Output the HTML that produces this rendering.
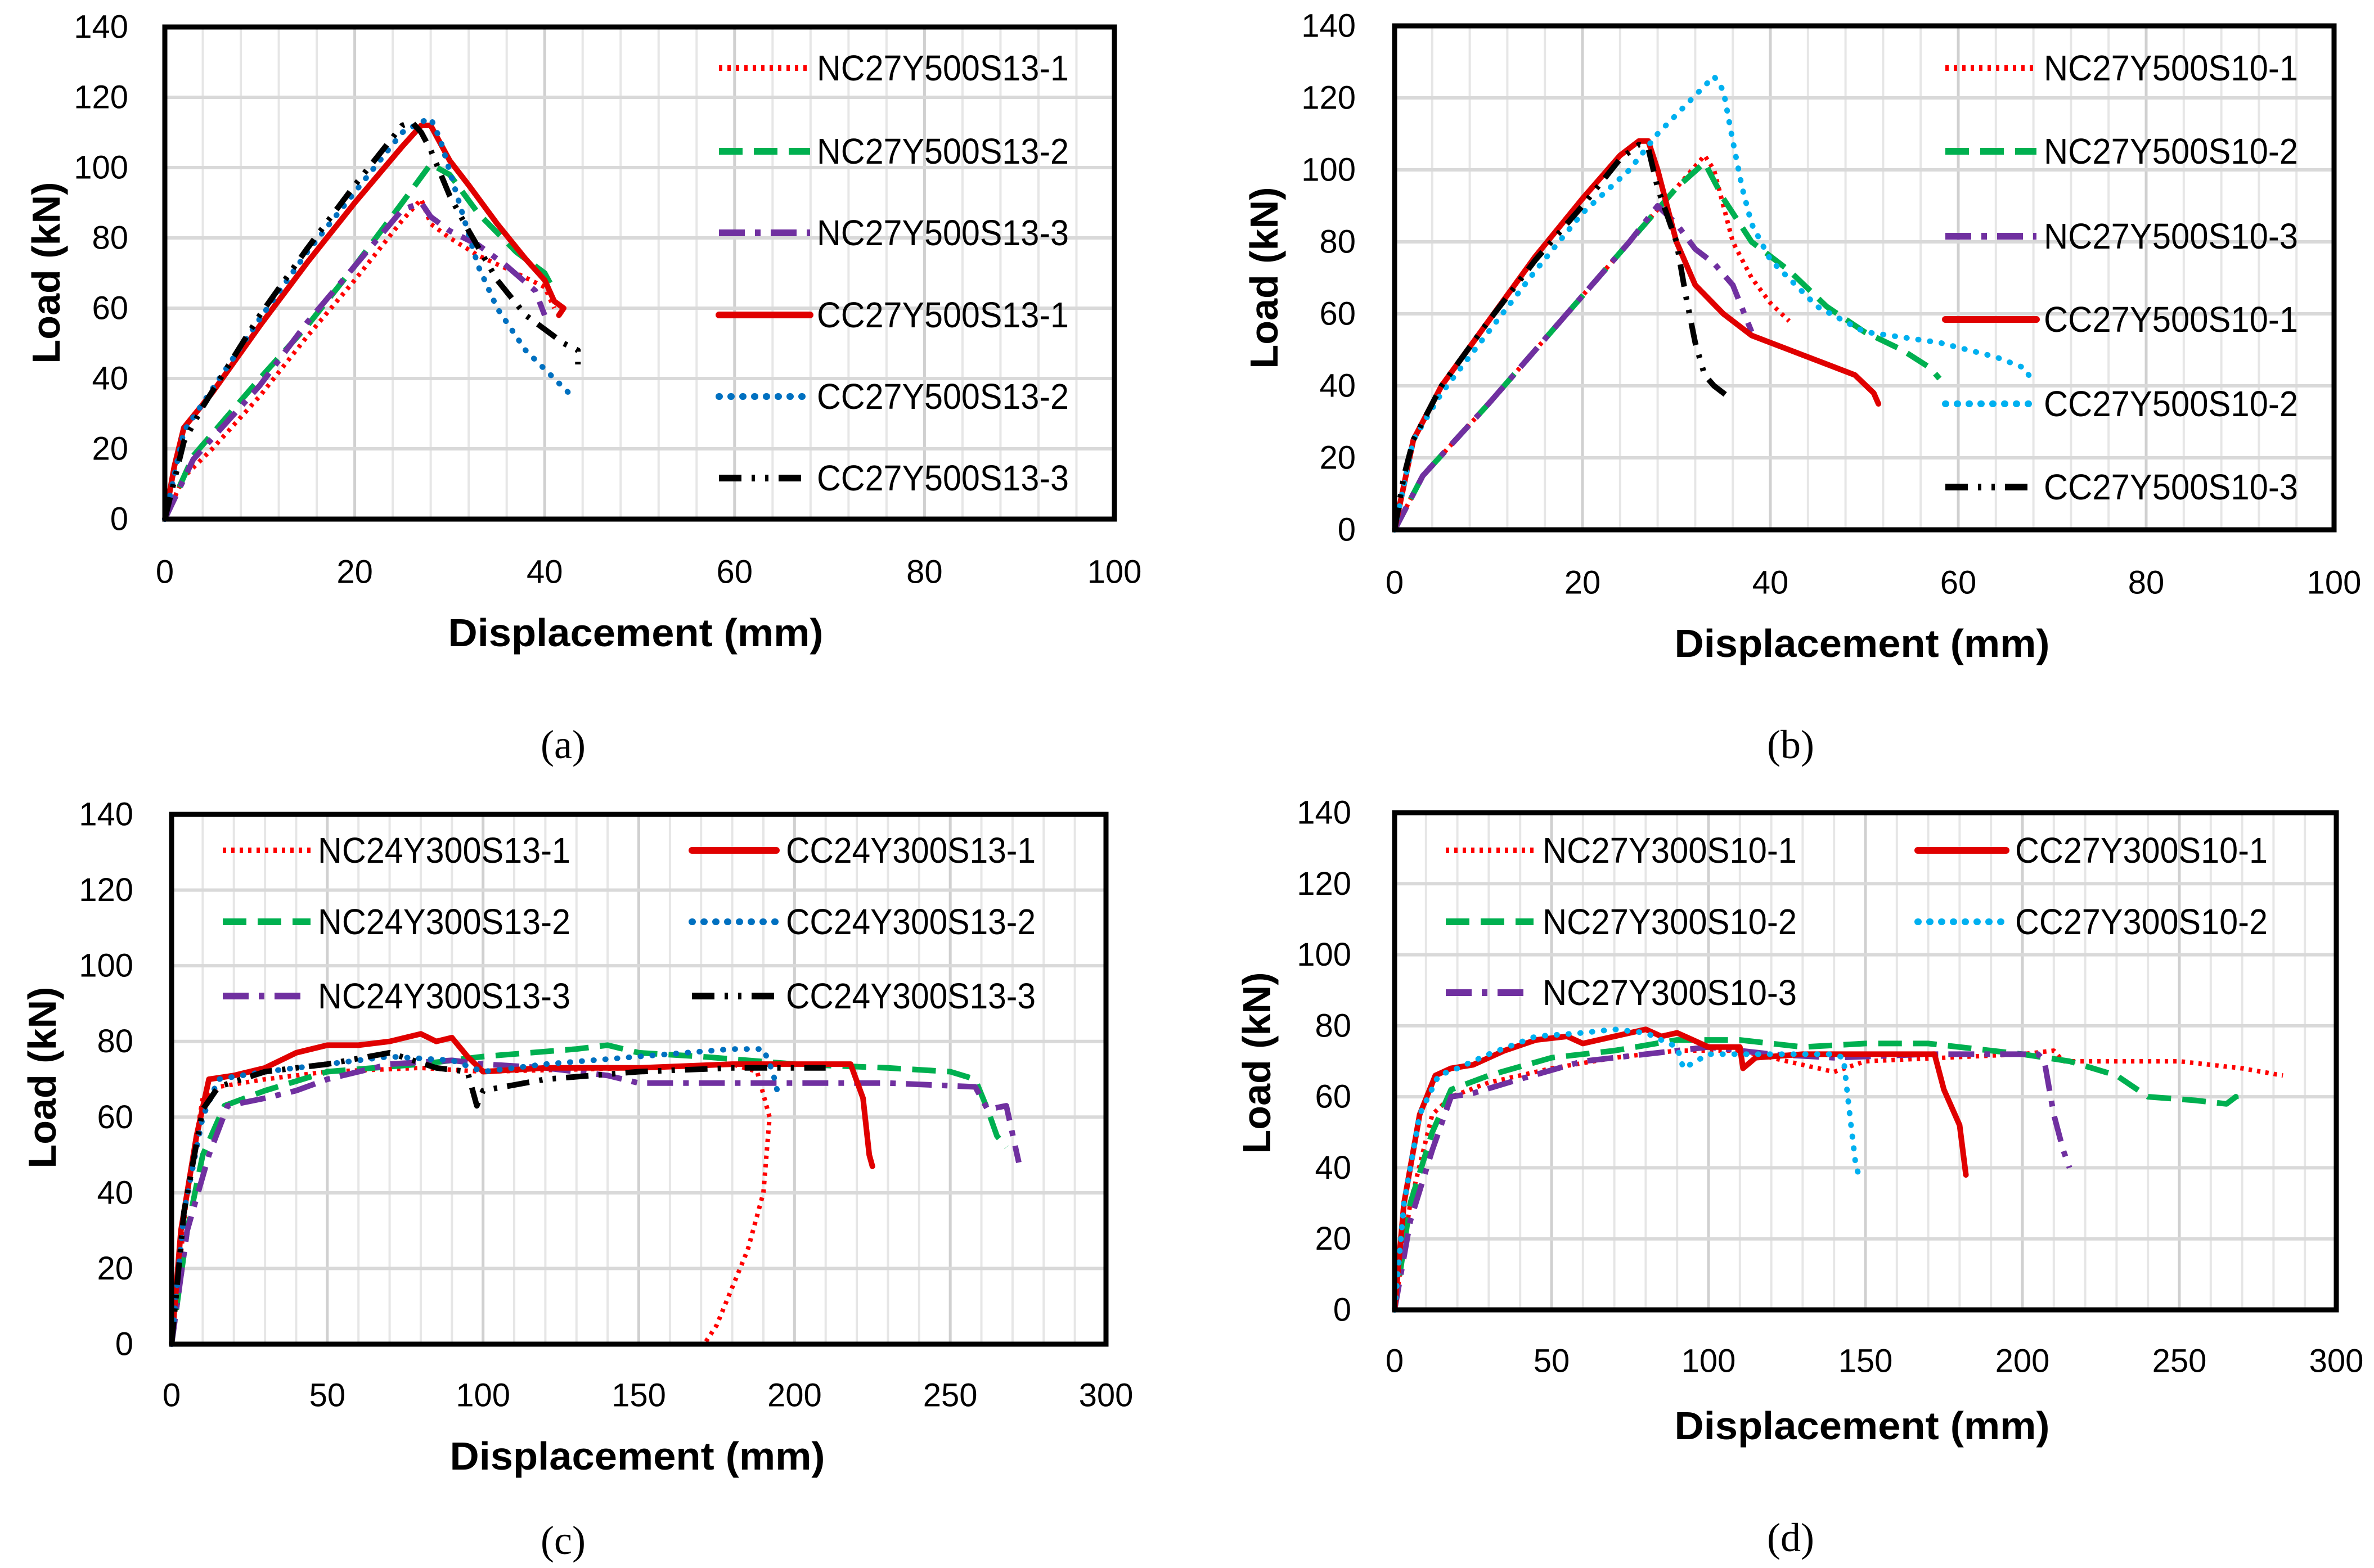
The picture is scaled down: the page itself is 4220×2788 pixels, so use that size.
<!DOCTYPE html>
<html><head><meta charset="utf-8"><style>
html,body{margin:0;padding:0;background:#fff;}
svg{display:block;}
text{font-family:"Liberation Sans Narrow","Liberation Sans",sans-serif;fill:#000;}
.t{font-size:58px;}
.lg{font-size:64px;}
.ttl{font-size:70px;font-weight:bold;font-family:"Liberation Sans",sans-serif;}
.pl{font-family:"Liberation Serif",serif;font-size:72px;}
</style></head><body>
<svg id="fig" width="4220" height="2788" viewBox="0 0 4220 2788" xmlns="http://www.w3.org/2000/svg"></svg>
<script>
// ---------- data: panel (a) ----------
const aNC1=[[0,0],[2,12],[5,20],[10,35],[15,52],[20,68],[25,85],[27,91],[28,84],[30,80],[33,75],[37,70],[40,66],[41,60]];
const aNC2=[[0,0],[3,18],[10,40],[15,55],[20,72],[25,90],[28,101],[30,98],[33,87],[37,76],[40,70],[41,65]];
const aNC3=[[0,0],[3,17],[10,38],[15,56],[20,72],[25,88],[27,90],[28,86],[30,82],[33,78],[36,72],[39,65],[40,58]];
const aCC1=[[0,0],[1,15],[2,26],[5,36],[10,55],[15,73],[20,90],[25,106],[27,112],[28,112],[30,102],[32,95],[35,84],[38,74],[39,71],[40,68],[41,62],[42,60],[41.5,58]];
const aCC2=[[0,0],[2,25],[5,37],[10,57],[15,76],[20,93],[25,110],[27,113],[28,114],[29,108],[31,90],[33,72],[35,60],[38,48],[41,40],[42.5,36]];
const aCC3=[[0,0],[2,22],[4,32],[10,58],[15,77],[20,95],[25,112],[26,113],[27,110],[28,105],[30,92],[32,82],[35,68],[38,58],[40,54],[42,50],[43.5,48],[43.5,44]];
const aNames=["NC27Y500S13-1","NC27Y500S13-2","NC27Y500S13-3","CC27Y500S13-1","CC27Y500S13-2","CC27Y500S13-3"];
// ---------- data: panel (b) ----------
const bNC1=[[0,0],[3,15],[10,35],[20,65],[25,80],[30,95],[33,104],[34,100],[36,80],[38,70],[40,63],[42,58]];
const bNC2=[[0,0],[3,15],[10,35],[20,65],[25,80],[30,95],[33,102],[35,92],[38,80],[42,72],[46,62],[50,55],[54,50],[57,45],[58,42]];
const bNC3=[[0,0],[3,15],[10,35],[20,65],[25,80],[28,90],[30,85],[32,78],[34,74],[36,68],[38,55]];
const bCC1=[[0,0],[2,25],[5,40],[10,58],[15,76],[20,92],[24,104],[26,108],[27,108],[28,100],[30,80],[32,68],[35,60],[38,54],[42,50],[46,46],[49,43],[51,38],[51.5,35]];
const bCC2=[[0,0],[2,25],[5,38],[10,55],[15,72],[20,88],[25,100],[28,110],[31,118],[34,126],[35,122],[36,108],[37,95],[38,85],[40,75],[45,62],[50,55],[58,52],[64,48],[67,45],[68,41]];
const bCC3=[[0,0],[1,15],[2,25],[5,40],[10,58],[15,75],[20,90],[24,103],[26,107],[27,106],[28,95],[30,80],[31,65],[32,52],[33,43],[34,40],[35,38],[36,36]];
const bNames=["NC27Y500S10-1","NC27Y500S10-2","NC27Y500S10-3","CC27Y500S10-1","CC27Y500S10-2","CC27Y500S10-3"];
// ---------- data: panel (c) ----------
const cNC1=[[0,0],[5,40],[10,65],[15,68],[30,70],[50,72],[80,73],[100,72],[150,73],[180,74],[188,72],[192,60],[190,40],[185,25],[175,5],[171,0]];
const cNC2=[[0,0],[5,30],[10,50],[17,63],[30,67],[50,72],[80,74],[100,76],[130,78],[140,79],[150,77],[170,76],[200,74],[230,73],[250,72],[258,70],[262,62],[265,55],[268,52]];
const cNC3=[[0,0],[5,30],[12,50],[18,63],[30,65],[40,67],[50,70],[70,74],[90,75],[100,74],[120,73],[140,71],[150,69],[170,69],[200,69],[230,69],[258,68],[262,62],[268,63],[272,48]];
const cCC1=[[0,0],[3,30],[8,55],[12,70],[20,71],[30,73],[40,77],[50,79],[60,79],[70,80],[80,82],[85,80],[90,81],[95,76],[100,72],[120,73],[150,73],[180,74],[200,74],[218,74],[222,65],[224,50],[225,47]];
const cCC2=[[0,0],[4,35],[10,60],[15,70],[30,72],[50,74],[70,76],[90,75],[100,72],[120,74],[150,76],[180,78],[190,78],[193,72],[195,65]];
const cCC3=[[0,0],[4,35],[10,62],[15,68],[30,72],[50,74],[70,77],[85,73],[95,72],[98,63],[100,67],[120,70],[150,72],[180,73],[200,73],[210,73]];
const cNames=["NC24Y300S13-1","NC24Y300S13-2","NC24Y300S13-3","CC24Y300S13-1","CC24Y300S13-2","CC24Y300S13-3"];
// ---------- data: panel (d) ----------
const dNC1=[[0,0],[5,30],[12,55],[18,60],[30,64],[50,68],[70,71],[90,73],[110,73],[140,67],[150,70],[200,72],[210,73],[213,70],[230,70],[250,70],[270,68],[283,66]];
const dNC2=[[0,0],[5,30],[12,50],[18,62],[30,66],[50,71],[70,73],[90,76],[110,76],[130,74],[150,75],[170,75],[200,72],[215,70],[230,66],[240,60],[255,59],[265,58],[268,60],[268,57]];
const dNC3=[[0,0],[5,25],[12,45],[18,60],[25,61],[40,65],[60,70],[80,72],[100,74],[120,72],[140,71],[170,72],[190,72],[205,72],[207,70],[210,55],[213,45],[215,40]];
const dCC1=[[0,0],[3,30],[8,55],[13,66],[18,68],[25,69],[35,73],[45,76],[55,77],[60,75],[70,77],[80,79],[85,77],[90,78],[95,76],[100,74],[110,74],[111,68],[115,71],[130,72],[150,72],[172,72],[175,62],[180,52],[182,38]];
const dCC2=[[0,0],[3,30],[8,55],[14,66],[20,68],[30,72],[45,77],[60,78],[70,79],[80,78],[90,74],[92,68],[100,72],[120,72],[140,72],[143,71],[145,55],[147,40],[148,38]];
const dNames=["NC27Y300S10-1","NC27Y300S10-2","NC27Y300S10-3","CC27Y300S10-1","CC27Y300S10-2"];
const yTicks=[0,20,40,60,80,100,120,140];
const xTicksAB=[0,20,40,60,80,100];
const xTicksCD=[0,50,100,150,200,250,300];

const NS="http://www.w3.org/2000/svg";
const svg=document.getElementById('fig');
function mk(tag,attrs,parent){const e=document.createElementNS(NS,tag);for(const k in attrs)e.setAttribute(k,attrs[k]);(parent||svg).appendChild(e);return e;}

const ST={
 redDot:{stroke:"#FF0000",w:8,dash:"6 9",cap:"butt"},
 green:{stroke:"#00B050",w:10,dash:"42 20",cap:"butt"},
 purple:{stroke:"#7030A0",w:10,dash:"46 18 10 18",cap:"butt"},
 redSolid:{stroke:"#E00000",w:10,dash:"none",cap:"round"},
 blueDot:{stroke:"#0070C0",w:10,dash:"1 20",cap:"round"},
 cyanDot:{stroke:"#00B0F0",w:10,dash:"1 20",cap:"round"},
 black:{stroke:"#000000",w:10,dash:"40 18 6 18 6 18",cap:"butt"}
};

function panel(P){
 const g=mk('g',{});
 
 
 const X=v=>P.L+(v-P.xmin)/(P.xmax-P.xmin)*(P.R-P.L);
 const Y=v=>P.B-v/140*(P.B-P.T);
 // minor vertical grid
 for(let v=P.xmin;v<=P.xmax+1e-9;v+=P.minor){
  const ln=mk('line',{x1:X(v),x2:X(v),y1:P.T,y2:P.B,stroke:"#e6e6e6","stroke-width":4},g);
  
  
 }
 P.xt.forEach(v=>{
  const ln=mk('line',{x1:X(v),x2:X(v),y1:P.T,y2:P.B,stroke:"#d0d0d0","stroke-width":5},g);
  
  
  const t=mk('text',{x:X(v),y:P.xty,"text-anchor":"middle","dominant-baseline":"central",class:"t"},g);
  t.textContent=v;
  
  
 });
 yTicks.forEach(v=>{
  const ln=mk('line',{x1:P.L,x2:P.R,y1:Y(v),y2:Y(v),stroke:"#d9d9d9","stroke-width":6},g);
  
  
  const t=mk('text',{x:P.ytx,y:Y(v),"text-anchor":"end","dominant-baseline":"central",class:"t"},g);
  t.textContent=v;
  
  
 });
 // series
 P.series.forEach((s,i)=>{
  const st=ST[s.st];
  const d=s.data.map((p,j)=>(j?'L':'M')+X(p[0]).toFixed(1)+' '+Y(p[1]).toFixed(1)).join(' ');
  const pa=mk('path',{d:d,fill:"none",stroke:st.stroke,"stroke-width":st.w,"stroke-dasharray":st.dash,"stroke-linecap":st.cap,"stroke-linejoin":"round"},g);
  
  
  const lg=P.leg[i];
  const ll=mk('line',{x1:lg[0],x2:lg[1],y1:lg[3],y2:lg[3],stroke:st.stroke,"stroke-width":st.w+2,"stroke-dasharray":st.dash,"stroke-linecap":st.cap},g);
  
  
  const lt=mk('text',{x:lg[2],y:lg[3],"dominant-baseline":"central",class:"lg",textLength:lg[4],lengthAdjust:"spacingAndGlyphs"},g);
  lt.textContent=P.names[i];
  
  
 });
 const fr=mk('rect',{x:P.L,y:P.T,width:P.R-P.L,height:P.B-P.T,fill:"none",stroke:"#000","stroke-width":9},g);
 
 
 const xt=mk('text',{x:P.xtl[0],y:P.xtl[1],"text-anchor":"middle","dominant-baseline":"central",class:"ttl",textLength:667,lengthAdjust:"spacingAndGlyphs"},g);
 xt.textContent="Displacement (mm)";
 
 
 const yt=mk('text',{x:0,y:0,"text-anchor":"middle","dominant-baseline":"central",class:"ttl",textLength:323,lengthAdjust:"spacingAndGlyphs",transform:`translate(${P.ytl[0]},${P.ytl[1]}) rotate(-90)`},g);
 yt.textContent="Load (kN)";
 
 
 const pl=mk('text',{x:P.plab[0],y:P.plab[1],"text-anchor":"middle","dominant-baseline":"central",class:"pl"},g);
 pl.textContent=P.label;
 
 
}

const colA=[[1278,1440,1452,121,448],[1278,1440,1452,269,448],[1278,1440,1452,414,448],[1278,1440,1452,560,448],[1278,1440,1452,705,448],[1278,1440,1452,850,448]];
panel({id:'a',label:'(a)',L:293,R:1981,T:48,B:923,xmin:0,xmax:100,minor:4,xt:xTicksAB,xty:1017,ytx:228,
 xtl:[1130,1125],ytl:[82,485],plab:[1001,1324],names:aNames,leg:colA,
 series:[{data:aNC1,st:'redDot'},{data:aNC2,st:'green'},{data:aNC3,st:'purple'},{data:aCC1,st:'redSolid'},{data:aCC2,st:'blueDot'},{data:aCC3,st:'black'}]});
const colB=[[3458,3620,3633,121,452],[3458,3620,3633,269,452],[3458,3620,3633,420,452],[3458,3620,3633,568,452],[3458,3620,3633,718,452],[3458,3620,3633,866,452]];
panel({id:'b',label:'(b)',L:2479,R:4149,T:46,B:942,xmin:0,xmax:100,minor:4,xt:xTicksAB,xty:1036,ytx:2410,
 xtl:[3310,1144],ytl:[2247,494],plab:[3183,1324],names:bNames,leg:colB,
 series:[{data:bNC1,st:'redDot'},{data:bNC2,st:'green'},{data:bNC3,st:'purple'},{data:bCC1,st:'redSolid'},{data:bCC2,st:'cyanDot'},{data:bCC3,st:'black'}]});
const colC=[[396,552,565,1512,449],[396,552,565,1639,449],[396,552,565,1771,449],[1230,1380,1397,1512,444],[1230,1380,1397,1639,444],[1230,1380,1397,1771,444]];
panel({id:'c',label:'(c)',L:305,R:1966,T:1448,B:2390,xmin:0,xmax:300,minor:10,xt:xTicksCD,xty:2481,ytx:237,
 xtl:[1133,2589],ytl:[75,1916],plab:[1001,2739],names:cNames,leg:colC,
 series:[{data:cNC1,st:'redDot'},{data:cNC2,st:'green'},{data:cNC3,st:'purple'},{data:cCC1,st:'redSolid'},{data:cCC2,st:'blueDot'},{data:cCC3,st:'black'}]});
const colD=[[2570,2726,2742,1512,452],[2570,2726,2742,1639,452],[2570,2726,2742,1765,452],[3409,3566,3582,1512,449],[3409,3566,3582,1639,449]];
panel({id:'d',label:'(d)',L:2479,R:4153,T:1445,B:2329,xmin:0,xmax:300,minor:10,xt:xTicksCD,xty:2420,ytx:2402,
 xtl:[3310,2535],ytl:[2234,1890],plab:[3183,2734],names:dNames,leg:colD,
 series:[{data:dNC1,st:'redDot'},{data:dNC2,st:'green'},{data:dNC3,st:'purple'},{data:dCC1,st:'redSolid'},{data:dCC2,st:'cyanDot'}]});
</script>
</body></html>
